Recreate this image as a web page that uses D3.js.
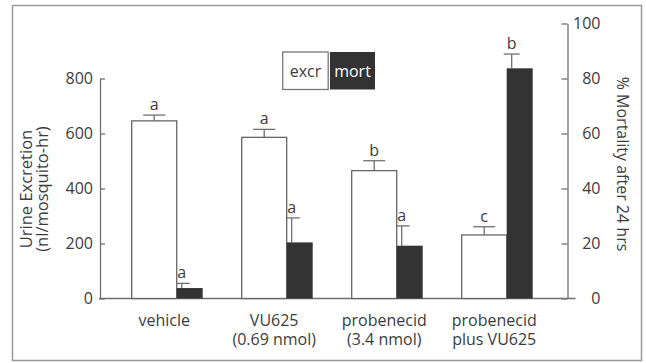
<!DOCTYPE html>
<html>
<head>
<meta charset="utf-8">
<script src="https://cdn.jsdelivr.net/npm/d3@7"></script>
<style>
  html, body { margin: 0; padding: 0; background: #ffffff; }
  svg { display: block; }
  text { font-family: "Open Sans", "Noto Sans", sans-serif; fill: #3c3c3c; }
</style>
</head>
<body>
<svg id="chart" width="646" height="363"></svg>
<script>
// Treatment groups (line breaks split the two-line labels)
const categories = ["vehicle", "VU625\n(0.69 nmol)", "probenecid\n(3.4 nmol)", "probenecid\nplus VU625"];

// Urine excretion (nl/mosquito-hr), mean and upper error
const excretion = [646, 586, 465, 231];
const excretionErr = [21, 29, 36, 30];
const excretionLetters = ["a", "a", "b", "c"];

// % mortality after 24 hrs, mean and upper error
const mortality = [3.8, 20.4, 19.2, 83.7];
const mortalityErr = [1.7, 8.9, 7.2, 5.2];
const mortalityLetters = ["a", "a", "a", "b"];

// Axis ticks
const leftTicks = [0, 200, 400, 600, 800];
const rightTicks = [0, 20, 40, 60, 80, 100];

const svg = d3.select("#chart");
const axisColor = "#707070";
const darkFill = "#333333";
const fontSize = 16;

// outer frame
svg.append("rect")
  .attr("x", 12.5).attr("y", 5.5)
  .attr("width", 629).attr("height", 355)
  .attr("fill", "#ffffff")
  .attr("stroke", "#9a9a9a").attr("stroke-width", 1.5);

const plotLeft = 100, plotRight = 567.5;
const yBottom = 298.5, yTop = 23.5;

// scales: the excretion axis runs to 1000 so it lines up with 0–100 %
const yEx = d3.scaleLinear().domain([0, 1000]).range([yBottom, yTop]);
const yMort = d3.scaleLinear().domain([0, 100]).range([yBottom, yTop]);

const x = d3.scaleBand()
  .domain(categories)
  .range([131.7, 532.7])
  .paddingInner(0.3545)
  .paddingOuter(0);

const excrFrac = 45 / 71; // share of the group width taken by the excretion bar
const exW = x.bandwidth() * excrFrac;
const moW = x.bandwidth() - exW;

const rows = categories.map((c, i) => ({
  cat: c,
  ex: excretion[i], exErr: excretionErr[i], exLet: excretionLetters[i],
  mo: mortality[i], moErr: mortalityErr[i], moLet: mortalityLetters[i]
}));

// left axis (drawn up to 800)
const yExAxisScale = d3.scaleLinear().domain([0, 800]).range([yEx(0), yEx(800)]);
const leftAxis = svg.append("g")
  .attr("transform", `translate(${plotLeft},0)`)
  .call(d3.axisLeft(yExAxisScale).tickValues(leftTicks).tickSize(-5).tickSizeOuter(0).tickPadding(7));
leftAxis.select(".domain").attr("stroke", axisColor).attr("stroke-width", 1.3);
leftAxis.selectAll(".tick line").attr("stroke", axisColor).attr("stroke-width", 1.3);
leftAxis.selectAll(".tick text")
  .attr("font-size", fontSize).attr("font-family", null).attr("fill", "#3c3c3c");

// right axis, labels right-aligned
const rightAxis = svg.append("g")
  .attr("transform", `translate(${plotRight},0)`)
  .call(d3.axisRight(yMort).tickValues(rightTicks).tickSize(-6).tickSizeOuter(0).tickPadding(7));
rightAxis.select(".domain").attr("stroke", axisColor).attr("stroke-width", 1.3);
rightAxis.selectAll(".tick line").attr("stroke", axisColor).attr("stroke-width", 1.3);
rightAxis.selectAll(".tick text")
  .attr("font-size", fontSize).attr("font-family", null).attr("fill", "#3c3c3c")
  .attr("text-anchor", "end").attr("x", 33);

// baseline
svg.append("line")
  .attr("x1", plotLeft - 1).attr("x2", plotRight + 8)
  .attr("y1", yEx(0)).attr("y2", yEx(0))
  .attr("stroke", axisColor).attr("stroke-width", 1.3);

const groups = svg.append("g").selectAll("g")
  .data(rows).join("g")
  .attr("transform", d => `translate(${x(d.cat)},0)`);

// excretion error bars
groups.append("line")
  .attr("x1", exW / 2).attr("x2", exW / 2)
  .attr("y1", d => yEx(d.ex)).attr("y2", d => yEx(d.ex + d.exErr))
  .attr("stroke", axisColor).attr("stroke-width", 1.3);
groups.append("line")
  .attr("x1", exW / 2 - 11).attr("x2", exW / 2 + 11)
  .attr("y1", d => yEx(d.ex + d.exErr)).attr("y2", d => yEx(d.ex + d.exErr))
  .attr("stroke", axisColor).attr("stroke-width", 1.3);

// mortality error bars (set near the bar's left edge)
const moErrX = exW + 5;
groups.append("line")
  .attr("x1", moErrX).attr("x2", moErrX)
  .attr("y1", d => yMort(d.mo)).attr("y2", d => yMort(d.mo + d.moErr))
  .attr("stroke", axisColor).attr("stroke-width", 1.3);
groups.append("line")
  .attr("x1", moErrX - 8).attr("x2", moErrX + 8)
  .attr("y1", d => yMort(d.mo + d.moErr)).attr("y2", d => yMort(d.mo + d.moErr))
  .attr("stroke", axisColor).attr("stroke-width", 1.3);

// excretion bars (open)
groups.append("rect")
  .attr("x", 0).attr("width", exW)
  .attr("y", d => yEx(d.ex)).attr("height", d => yEx(0) - yEx(d.ex))
  .attr("fill", "#ffffff").attr("stroke", "#666666").attr("stroke-width", 1.3);

// mortality bars (filled)
groups.append("rect")
  .attr("x", exW).attr("width", moW)
  .attr("y", d => yMort(d.mo)).attr("height", d => yMort(0) - yMort(d.mo))
  .attr("fill", darkFill);

// significance letters
groups.append("text")
  .attr("x", exW / 2).attr("y", d => yEx(d.ex + d.exErr) - 5)
  .attr("text-anchor", "middle").attr("font-size", fontSize)
  .text(d => d.exLet);
groups.append("text")
  .attr("x", moErrX).attr("y", d => yMort(d.mo + d.moErr) - 5)
  .attr("text-anchor", "middle").attr("font-size", fontSize)
  .text(d => d.moLet);

// category labels
groups.append("text")
  .attr("text-anchor", "middle").attr("font-size", fontSize)
  .attr("transform", `translate(${x.bandwidth() / 2 - 3},326)`)
  .selectAll("tspan")
  .data(d => d.cat.split("\n")).join("tspan")
  .attr("x", 0).attr("dy", (s, i) => i === 0 ? 0 : 18.5)
  .text(s => s);

// axis titles
svg.append("text")
  .attr("transform", "translate(32,189) rotate(-90)")
  .attr("text-anchor", "middle").attr("font-size", 16.5)
  .selectAll("tspan")
  .data(["Urine Excretion", "(nl/mosquito-hr)"]).join("tspan")
  .attr("x", 0).attr("dy", (s, i) => i === 0 ? 0 : 16)
  .text(s => s);

svg.append("text")
  .attr("transform", "translate(617,164) rotate(90)")
  .attr("text-anchor", "middle").attr("font-size", 16)
  .text("% Mortality after 24 hrs");

// legend
const legend = svg.append("g").attr("transform", "translate(282.7,52)");
legend.append("rect")
  .attr("x", 0).attr("y", 0).attr("width", 45.5).attr("height", 37.5)
  .attr("fill", "#ffffff").attr("stroke", "#777777").attr("stroke-width", 1.3);
legend.append("rect")
  .attr("x", 47.3).attr("y", 0).attr("width", 45).attr("height", 37.5)
  .attr("fill", darkFill);
legend.append("text")
  .attr("x", 22.75).attr("y", 24.5).attr("text-anchor", "middle")
  .attr("font-size", fontSize).text("excr");
legend.append("text")
  .attr("x", 69.8).attr("y", 24.5).attr("text-anchor", "middle")
  .attr("font-size", fontSize).style("fill", "#ffffff").text("mort");
</script>
</body>
</html>
